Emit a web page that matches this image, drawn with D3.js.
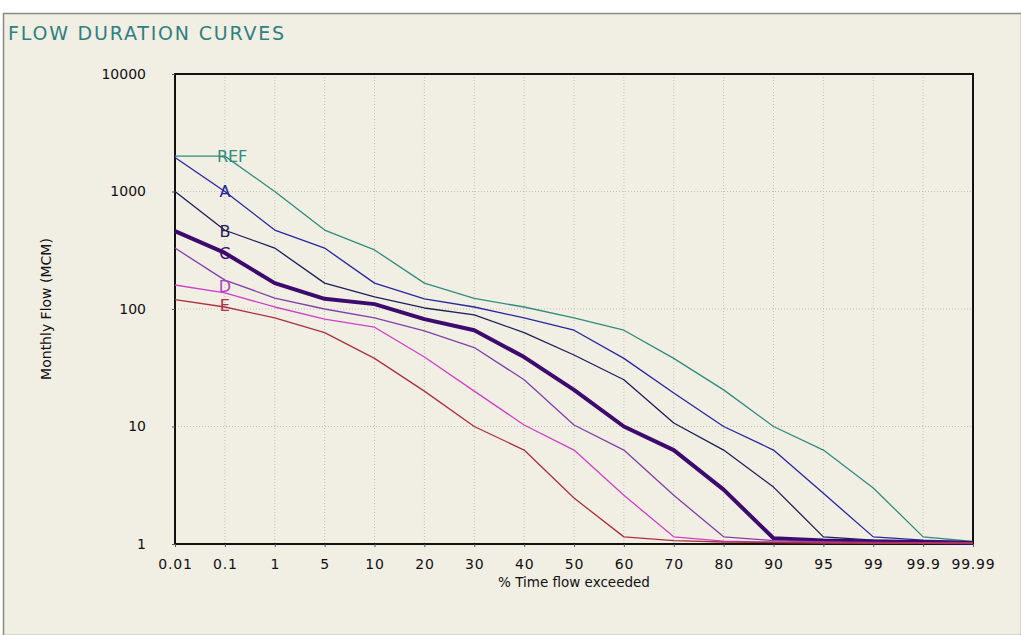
<!DOCTYPE html>
<html>
<head>
<meta charset="utf-8">
<script src="https://cdn.jsdelivr.net/npm/d3@7"></script>
<style>
  html, body { margin: 0; padding: 0; background: #ffffff; }
  svg { display: block; }
</style>
</head>
<body>
<svg id="chart" width="1021" height="635"></svg>
<script>
const xTicks = ["0.01","0.1","1","5","10","20","30","40","50","60","70","80","90","95","99","99.9","99.99"];
const yTicks = [1, 10, 100, 1000, 10000];
const seriesNames = ["REF","A","B","C","D","E","F"];
const seriesColors = ["#2f8c7e","#2626a0","#1e1e58","#3d0a6e","#8040a8","#d040c8","#ad3040"];
const seriesWidths = [1.3, 1.3, 1.3, 4, 1.3, 1.3, 1.3];
const REF = [2000, 2000, 1000, 470, 318, 166, 123, 104, 84, 66, 38, 20.5, 10, 6.3, 3.0, 1.15, 1.05];
const A   = [1950, 1000, 470, 330, 166, 122, 104, 84, 66, 38, 19.3, 10, 6.3, 2.7, 1.15, 1.08, 1.04];
const B   = [1000, 468, 330, 166, 127, 102, 89, 63, 40.6, 25, 10.7, 6.3, 3.05, 1.15, 1.08, 1.06, 1.03];
const C   = [460, 300, 166, 122, 110, 82, 66, 39, 20.5, 10, 6.3, 2.9, 1.12, 1.07, 1.05, 1.04, 1.02];
const D   = [330, 176, 124, 100, 84, 65, 47, 25, 10.3, 6.3, 2.6, 1.15, 1.07, 1.04, 1.03, 1.02, 1.02];
const E   = [160, 137, 104, 82, 70, 39, 20, 10.3, 6.3, 2.6, 1.15, 1.06, 1.04, 1.03, 1.02, 1.02, 1.02];
const F   = [120, 104, 84, 63, 38, 20, 10, 6.3, 2.46, 1.15, 1.07, 1.04, 1.03, 1.02, 1.02, 1.02, 1.02];
const seriesValues = [REF, A, B, C, D, E, F];
// curve labels placed at the "0.1" category
const labelNames = ["REF","A","B","C","D","E"];
const labelValues = [2000, 1000, 460, 300, 155, 108];
const labelColors = ["#2f8c7e","#2626a0","#1e1e58","#3d0a6e","#b040c8","#b03048"];
const titleText = "FLOW DURATION CURVES";
const xTitle = "% Time flow exceeded";
const yTitle = "Monthly Flow (MCM)";

const svg = d3.select("#chart");
const W = 1021, H = 635;
const m = {left: 175, right: 48, top: 74, bottom: 91};
const font = "'DejaVu Sans', sans-serif";

// panel
svg.append("rect").attr("x", 0).attr("y", 0).attr("width", W).attr("height", H).attr("fill", "#ffffff");
svg.append("rect").attr("x", 3.5).attr("y", 13.5).attr("width", W - 3).attr("height", H - 13)
  .attr("fill", "#f1eee4").attr("stroke", "#8c8a80").attr("stroke-width", 1.5);
svg.append("text").attr("x", 8).attr("y", 40).text(titleText)
  .attr("font-family", font).attr("font-size", 19).attr("letter-spacing", 1.8)
  .attr("fill", "#2f8080");

const x = d3.scalePoint().domain(xTicks).range([m.left, W - m.right]);
const y = d3.scaleLog().domain([1, 10000]).range([H - m.bottom, m.top]);

const g = svg.append("g");
// grid
g.selectAll(".vg").data(xTicks.slice(1, -1)).join("line")
  .attr("x1", d => x(d)).attr("x2", d => x(d)).attr("y1", m.top).attr("y2", H - m.bottom)
  .attr("stroke", "#c4c1b6").attr("stroke-width", 1).attr("stroke-dasharray", "1,2");
g.selectAll(".hg").data(yTicks.slice(1, -1)).join("line")
  .attr("x1", m.left).attr("x2", W - m.right).attr("y1", d => y(d)).attr("y2", d => y(d))
  .attr("stroke", "#c4c1b6").attr("stroke-width", 1).attr("stroke-dasharray", "1,2");

// frame
g.append("rect").attr("x", m.left).attr("y", m.top).attr("width", W - m.left - m.right)
  .attr("height", H - m.top - m.bottom).attr("fill", "none").attr("stroke", "#111").attr("stroke-width", 2);

// axes
const xAxis = g.append("g").attr("transform", `translate(0,${H - m.bottom})`)
  .call(d3.axisBottom(x).tickSize(3).tickPadding(12));
const yAxis = g.append("g").attr("transform", `translate(${m.left},0)`)
  .call(d3.axisLeft(y).tickValues(yTicks).tickFormat(d3.format("d")).tickSize(3).tickPadding(26));
[xAxis, yAxis].forEach(a => {
  a.select(".domain").remove();
  a.selectAll("text").attr("font-family", font).attr("font-size", 14).attr("fill", "#111");
  a.selectAll("line").attr("stroke", "#555");
});
xAxis.selectAll("text").attr("letter-spacing", 0.8);

// series
const line = d3.line().x((d, i) => x(xTicks[i])).y(d => y(d));
seriesNames.forEach((name, k) => {
  g.append("path").datum(seriesValues[k]).attr("d", line)
    .attr("fill", "none").attr("stroke", seriesColors[k]).attr("stroke-width", seriesWidths[k])
    .attr("stroke-linejoin", "round");
});
labelNames.forEach((name, k) => {
  g.append("text").attr("x", x(xTicks[1])).attr("y", y(labelValues[k]))
    .attr("dy", "0.36em")
    .attr("text-anchor", name === "REF" ? "start" : "middle")
    .attr("dx", name === "REF" ? -8 : 0)
    .attr("font-family", font).attr("font-size", 16)
    .attr("fill", labelColors[k]).text(name);
});

// axis titles
svg.append("text").attr("x", 574).attr("y", 587).attr("text-anchor", "middle")
  .attr("font-family", font).attr("font-size", 13.5).attr("fill", "#111").text(xTitle);
svg.append("text").attr("transform", `translate(51,${(m.top + H - m.bottom) / 2}) rotate(-90)`)
  .attr("text-anchor", "middle").attr("font-family", font).attr("font-size", 14).attr("fill", "#111").text(yTitle);
</script>
</body>
</html>
